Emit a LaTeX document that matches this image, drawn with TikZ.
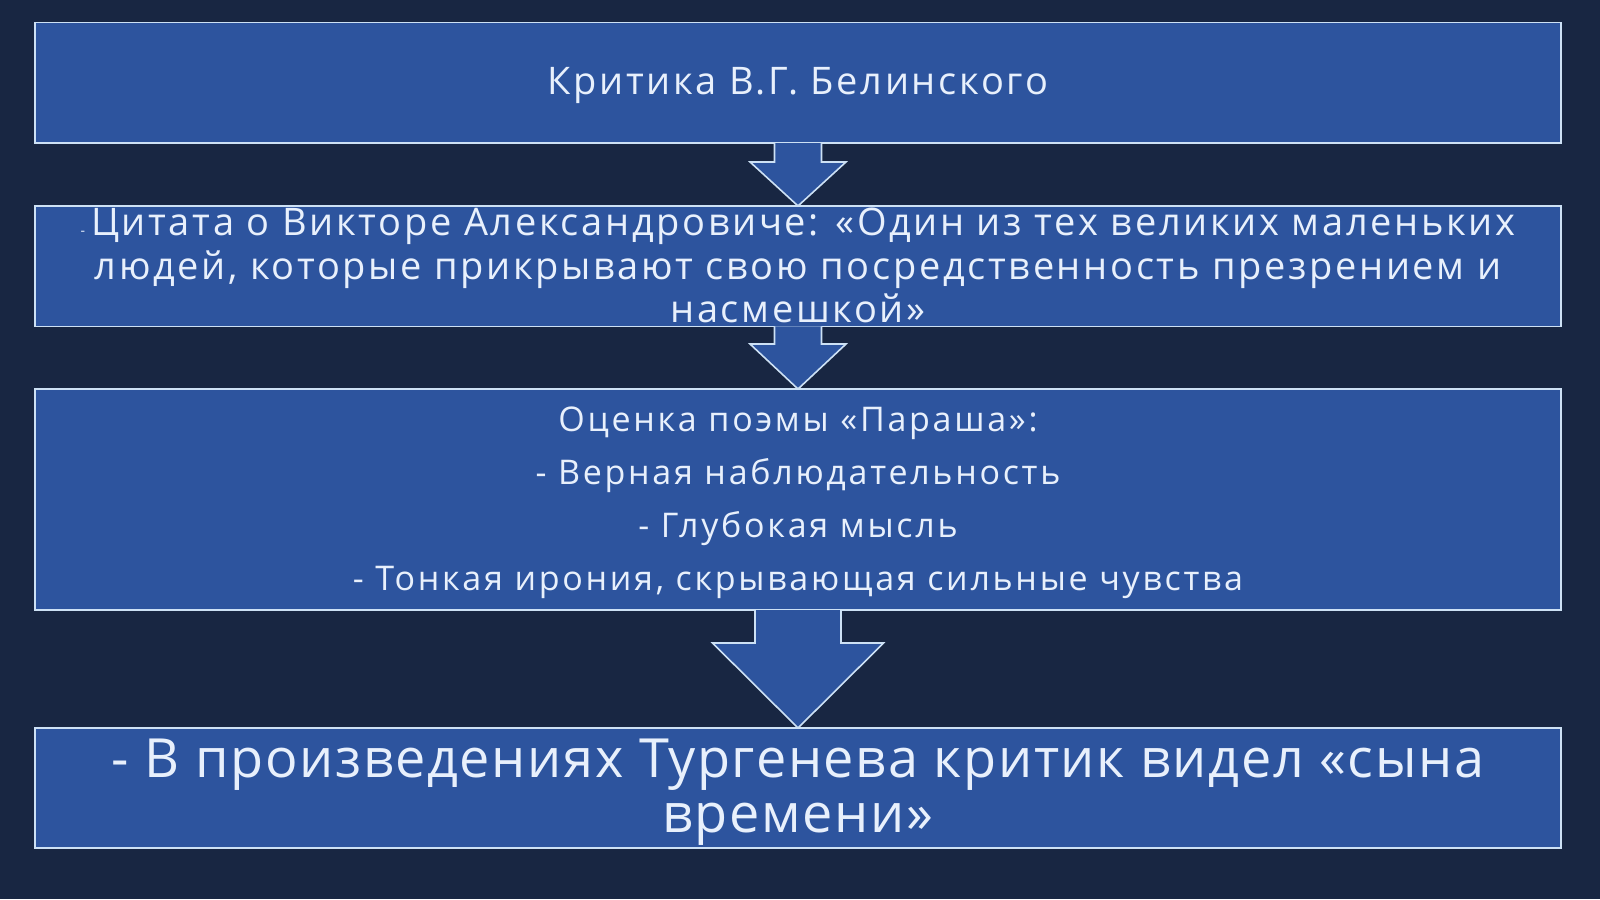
\documentclass[tikz,border=0pt]{standalone}
\usepackage{fontspec}
\setmainfont{Open Sans}
\newfontfamily\slidefont[LetterSpace=7]{Open Sans}
\newfontfamily\poemfont[LetterSpace=8]{Open Sans}
\newfontfamily\bigfont[LetterSpace=3]{Open Sans}
\usetikzlibrary{calc}
\definecolor{slidebg}{RGB}{24,38,66}
\definecolor{boxfill}{RGB}{45,84,158}
\definecolor{boxline}{RGB}{205,225,245}
\definecolor{boxtext}{RGB}{232,240,252}
\tikzset{
	stepbox/.style={draw=boxline, fill=boxfill, line width=1.6pt, minimum width=1526pt, inner sep=0pt, outer sep=0pt},
	steptext/.style={align=center, inner sep=0pt, text=boxtext},
	flowarrow/.style={draw=boxline, fill=boxfill, line width=1.6pt, line join=miter}
}
\def\blockarrow[#1](#2)(#3)(#4:#5:#6){\draw[#1] ($(#2.south)+(-#4,0)$) -- ($(#3.north)+(-#4,-#6)$) -- ($(#3.north)+(-#5,-#6)$) -- (#3.north) -- ($(#3.north)+(#5,-#6)$) -- ($(#3.north)+(#4,-#6)$) -- ($(#2.south)+(#4,0)$);}

\begin{document}
\begin{tikzpicture}[x=1pt, y=-1pt]
		%%%%% START %%%%%
		
		\fill[slidebg] (0, 0) rectangle (1600, 899);
		\useasboundingbox (0, 0) rectangle (1600, 899);
		
		\node[stepbox, minimum height=120.6pt] (critic) at (798, 82.7) {};
		\node[steptext, font={\slidefont\fontsize{38}{43.6}\selectfont}] (critictext) at (798, 85.3) {Критика В.Г. Белинского};
		
		\node[stepbox, minimum height=120.5pt] (quote) at (798, 266.2) {};
		\node[steptext, font={\slidefont\fontsize{38}{43.6}\selectfont}] (quotetext) at (798, 265.8) {{\fontsize{14}{14}\selectfont -}\hspace{6pt}Цитата о Викторе Александровиче: «Один из тех великих маленьких\\людей, которые прикрывают свою посредственность презрением и\\насмешкой»};
		
		\node[stepbox, minimum height=221pt] (poem) at (798, 499.5) {};
		\node[steptext, font={\poemfont\fontsize{34}{52.8}\selectfont}] (poemtext) at (798, 502.6) {Оценка поэмы «Параша»:\\- Верная наблюдательность\\- Глубокая мысль\\- Тонкая ирония, скрывающая сильные чувства};
		
		\node[stepbox, minimum height=120pt] (son) at (798, 788) {};
		\node[steptext, font={\bigfont\fontsize{54}{55.4}\selectfont}] (sontext) at (798, 792.2) {- В произведениях Тургенева критик видел «сына\\времени»};
		
		\blockarrow[flowarrow](critic)(quote)(23.5:48:44);
		\blockarrow[flowarrow](quote)(poem)(23.5:48:45);
		\blockarrow[flowarrow](poem)(son)(43:85.5:85);
		
		%%%%% END %%%%%
\end{tikzpicture}
\end{document}
